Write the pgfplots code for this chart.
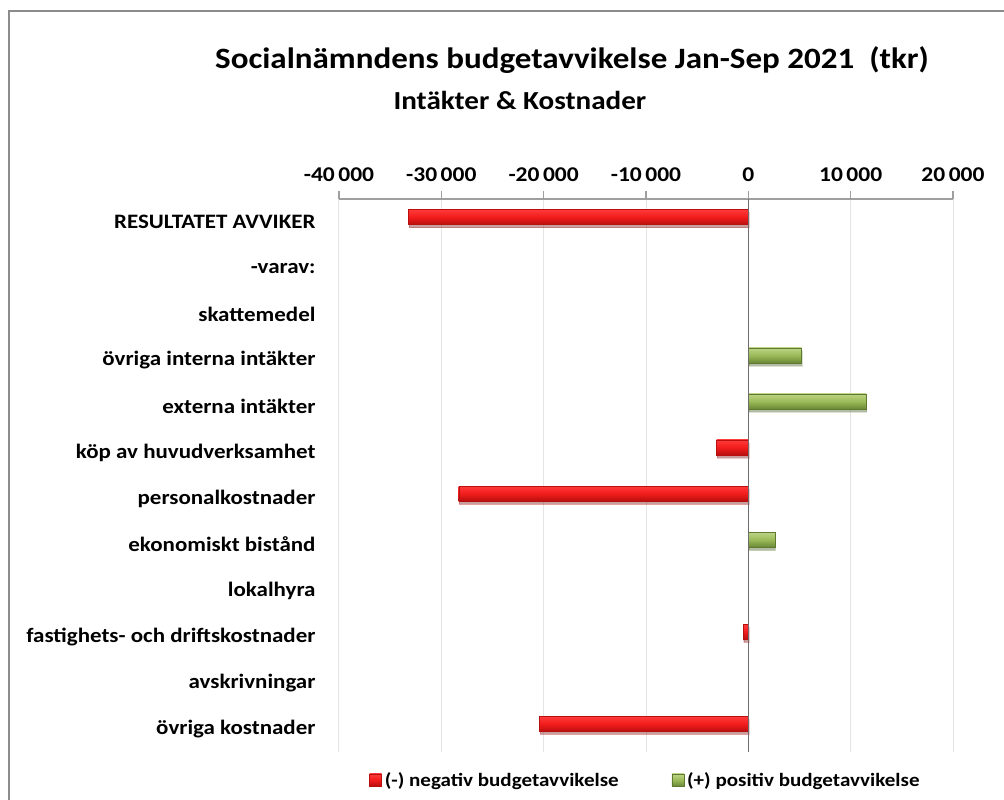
\documentclass[border=0pt]{standalone}
\usepackage{fontspec}
\setmainfont{Carlito}[FakeStretch=1.12]
\usepackage{pgfplots}
\pgfplotsset{compat=1.18}
\usetikzlibrary{shadows}

\definecolor{negtop}{HTML}{FF3A3A}
\definecolor{negmid}{HTML}{F21C1C}
\definecolor{negbot}{HTML}{B80F0F}
\definecolor{postop}{HTML}{BDD486}
\definecolor{posmid}{HTML}{9BBB59}
\definecolor{posbot}{HTML}{6B8836}
\definecolor{posdraw}{HTML}{5E7A2E}
\definecolor{frame}{HTML}{8C8C8C}

\pgfplotsset{
  barshadow/.style={drop shadow={shadow xshift=0.5pt, shadow yshift=-3pt, opacity=0.22, fill=black}},
  negbar/.style={draw=negbot, top color=negtop, bottom color=negbot, middle color=negmid, forget plot, barshadow},
  posbar/.style={draw=posdraw, top color=postop, bottom color=posbot, middle color=posmid, forget plot, barshadow},
}

\begin{document}
\begin{tikzpicture}[x=1pt,y=1pt]
\useasboundingbox (0,0) rectangle (1004,800);
% outer frame (right and bottom edges cut off as in the original)
\draw[frame, line width=2.5pt] (9,0) -- (9,789) -- (1010,789);

\node[font=\bfseries\fontsize{29.5}{34}\selectfont] at (572,740) {Socialnämndens budgetavvikelse Jan-Sep 2021~~(tkr)};
\node[font=\bfseries\fontsize{26}{30}\selectfont, anchor=west] at (390,700) {Intäkter \& Kostnader};

\begin{axis}[
    at={(339pt,48pt)}, anchor=south west,
    scale only axis,
    width=614pt, height=553pt,
    xbar, bar width=15pt, bar shift=5pt,
    xmin=-40000, xmax=20000,
    ymin=-0.5, ymax=11.5,
    y dir=reverse,
    axis x line*=top,
    axis y line*=left,
    y axis line style={draw=none},
    x axis line style={draw=gray!75, line width=1.2pt},
    xtick={-40000,-30000,...,20000},
    scaled ticks=false,
    xtick align=outside,
    major tick length=8pt,
    xtick style={draw=gray!75, line width=1.2pt},
    ytick style={draw=none},
    xmajorgrids,
    grid style={gray!20, line width=1pt},
    ytick={0,...,11},
    yticklabels={RESULTATET AVVIKER, -varav:, skattemedel, övriga interna intäkter, externa intäkter, köp av huvudverksamhet, personalkostnader, ekonomiskt bistånd, lokalhyra, fastighets- och driftskostnader, avskrivningar, övriga kostnader},
    yticklabel style={font=\bfseries\fontsize{20.5}{24}\selectfont, xshift=-12pt},
    xticklabel style={font=\bfseries\fontsize{21}{24}\selectfont, yshift=6pt},
    /pgf/number format/.cd, 1000 sep={\,}, assume math mode=true,
    /pgfplots/.cd,
    legend style={at={(0.5,-0.0506)}, anchor=center, draw=none,
        font=\bfseries\fontsize{18.8}{22}\selectfont, legend columns=2,
        nodes={inner xsep=3pt},
        /tikz/every even column/.append style={column sep=50pt}},
    legend image code/.code={\draw[#1] (0pt,-6pt) rectangle (12pt,6pt);},
]
\addlegendimage{draw=negbot, top color=negtop, bottom color=negbot, middle color=negmid}
\addlegendentry{(-) negativ budgetavvikelse}
\addlegendimage{draw=posdraw, top color=postop, bottom color=posbot, middle color=posmid}
\addlegendentry{(+) positiv budgetavvikelse}

\addplot[negbar] coordinates {(-33200,0)};
\addplot[posbar] coordinates {(5200,3)};
\addplot[posbar] coordinates {(11500,4)};
\addplot[negbar] coordinates {(-3100,5)};
\addplot[negbar] coordinates {(-28300,6)};
\addplot[posbar] coordinates {(2600,7)};
\addplot[negbar] coordinates {(-500,9)};
\addplot[negbar] coordinates {(-20400,11)};
\draw[gray!85!black, line width=1.3pt] (axis cs:0,-0.5) -- (axis cs:0,11.5);
\end{axis}
\end{tikzpicture}
\end{document}
